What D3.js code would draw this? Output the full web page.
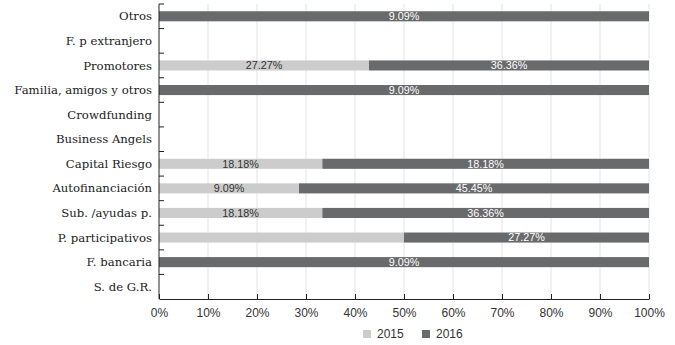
<!DOCTYPE html>
<html>
<head>
<meta charset="utf-8">
<script src="https://cdn.jsdelivr.net/npm/d3@7"></script>
<style>
  body { margin: 0; background: #fff; }
</style>
</head>
<body>
<div class="canvas"></div>
<script>
// data
const categories = ['Otros', 'F. p extranjero', 'Promotores', 'Familia, amigos y otros',
    'Crowdfunding', 'Business Angels', 'Capital Riesgo', 'Autofinanciación',
    'Sub. /ayudas p.', 'P. participativos', 'F. bancaria', 'S. de G.R.']
const years = ['2015', '2016']
const values2015 = [0, 0, 27.27, 0, 0, 0, 9.09, 18.18, 18.18, 27.27, 0, 0]
const values2016 = [9.09, 0, 36.36, 9.09, 0, 0, 18.18, 45.45, 36.36, 27.27, 9.09, 0]
// labels as printed on the bars
const labels2015 = [null, null, '27.27%', null, null, null, '18.18%', '9.09%', '18.18%', null, null, null]
const labels2016 = ['9.09%', null, '36.36%', '9.09%', null, null, '18.18%', '45.45%', '36.36%', '27.27%', '9.09%', null]
const xTicks = [0, 0.1, 0.2, 0.3, 0.4, 0.5, 0.6, 0.7, 0.8, 0.9, 1]

const colors = { '2015': '#cbcccb', '2016': '#696a6c' }

// graph dimensions
const margins = { top: 4, right: 26, bottom: 46, left: 159 }
const dims = { width: 675, height: 345 }
const graphDims = {
    width: dims.width - margins.left - margins.right,
    height: dims.height - margins.top - margins.bottom
}

const svg = d3.select('.canvas')
    .append('svg')
    .attr('width', dims.width)
    .attr('height', dims.height)

const graph = svg.append('g')
    .attr('transform', `translate(${margins.left}, ${margins.top})`)

// scales
const x = d3.scaleLinear().domain([0, 1]).range([0, graphDims.width])
const y = d3.scaleBand()
    .domain(categories)
    .range([0, graphDims.height])
    .paddingInner(0.59)
    .paddingOuter(0.295)

// rows -> shares
const rows = categories.map((c, i) => {
    const total = values2015[i] + values2016[i]
    return {
        cat: c,
        '2015': total ? values2015[i] / total : 0,
        '2016': total ? values2016[i] / total : 0,
        l2015: labels2015[i],
        l2016: labels2016[i]
    }
})
const stacked = d3.stack().keys(years)(rows)

// gridlines
graph.append('g')
    .selectAll('line')
    .data(xTicks.slice(1))
    .enter().append('line')
    .attr('x1', d => x(d)).attr('x2', d => x(d))
    .attr('y1', 0).attr('y2', graphDims.height)
    .attr('stroke', '#e3e3e3')
    .attr('stroke-width', 1)

// bars
graph.append('g')
    .selectAll('g')
    .data(stacked)
    .enter().append('g')
    .attr('fill', d => colors[d.key])
    .selectAll('rect')
    .data(d => d)
    .enter().append('rect')
    .attr('x', d => x(d[0]))
    .attr('y', d => y(d.data.cat))
    .attr('width', d => x(d[1]) - x(d[0]))
    .attr('height', y.bandwidth())

// bar labels
stacked.forEach(s => {
    graph.append('g')
        .selectAll('text')
        .data(s.filter(d => d.data['l' + s.key]))
        .enter().append('text')
        .attr('x', d => (x(d[0]) + x(d[1])) / 2)
        .attr('y', d => y(d.data.cat) + y.bandwidth() / 2)
        .attr('dy', '0.36em')
        .attr('text-anchor', 'middle')
        .attr('font-family', 'Liberation Sans, Arial, sans-serif')
        .attr('font-size', 10.8)
        .attr('fill', s.key === '2015' ? '#333' : '#fff')
        .text(d => d.data['l' + s.key])
})

// x axis
const xAxis = graph.append('g')
    .attr('transform', `translate(0, ${graphDims.height})`)
    .call(d3.axisBottom(x).tickValues(xTicks).tickFormat(d3.format('.0%')).tickSizeInner(-5).tickSizeOuter(0).tickPadding(9))
xAxis.select('.domain').attr('stroke', '#222')
xAxis.selectAll('.tick line').attr('stroke', '#222')
xAxis.selectAll('text')
    .attr('font-family', 'Liberation Sans, Arial, sans-serif')
    .attr('font-size', 12)
    .attr('fill', '#333')

// y axis: line plus inward ticks at band boundaries
const yAxis = graph.append('g')
yAxis.append('line')
    .attr('x1', 0).attr('x2', 0)
    .attr('y1', 0).attr('y2', graphDims.height)
    .attr('stroke', '#222')
yAxis.selectAll('line.tk')
    .data(d3.range(categories.length))
    .enter().append('line')
    .attr('class', 'tk')
    .attr('x1', 0).attr('x2', 5)
    .attr('y1', i => y(categories[i]) - y.step() * y.paddingInner() / 2)
    .attr('y2', i => y(categories[i]) - y.step() * y.paddingInner() / 2)
    .attr('stroke', '#222')
yAxis.selectAll('text')
    .data(categories)
    .enter().append('text')
    .attr('x', -7)
    .attr('y', d => y(d) + y.bandwidth() / 2)
    .attr('dy', '0.35em')
    .attr('text-anchor', 'end')
    .attr('font-family', 'DejaVu Serif, serif')
    .attr('font-size', 11.7)
    .attr('fill', '#222')
    .text(d => d)

// legend
const legend = svg.append('g')
    .attr('transform', 'translate(363, 330)')
const items = legend.selectAll('g')
    .data(years)
    .enter().append('g')
    .attr('transform', (d, i) => `translate(${i * 59}, 0)`)
items.append('rect')
    .attr('width', 8).attr('height', 8)
    .attr('fill', d => colors[d])
items.append('text')
    .attr('x', 14).attr('y', 4)
    .attr('dy', '0.35em')
    .attr('font-family', 'Liberation Sans, Arial, sans-serif')
    .attr('font-size', 12)
    .attr('fill', '#333')
    .text(d => d)
</script>
</body>
</html>
